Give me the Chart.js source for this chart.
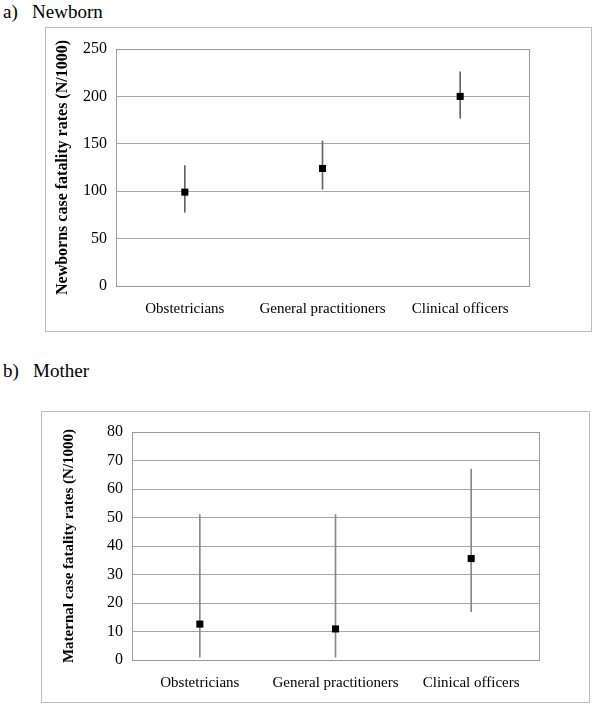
<!DOCTYPE html>
<html>
<head>
<meta charset="utf-8">
<script src="https://cdn.jsdelivr.net/npm/chart.js@4/dist/chart.umd.min.js"></script>
<style>
  body { margin: 0; background: #fff; font-family: "Liberation Serif", serif; }
  .title { position: absolute; left: 3px; font-size: 19px; color: #000; white-space: pre; }
  .box { position: absolute; border: 1px solid #bbb; box-sizing: border-box; }
</style>
</head>
<body>
<div class="title" style="top:1px;">a)   Newborn</div>
<div class="box" style="left:45px;top:27px;width:547px;height:305px;"><canvas id="chartA"></canvas></div>
<div class="title" style="top:360px;">b)   Mother</div>
<div class="box" style="left:41px;top:411px;width:549px;height:292px;"><canvas id="chartB"></canvas></div>
<script>
var categories = ['Obstetricians', 'General practitioners', 'Clinical officers'];

// a) newborn case fatality rates (N/1000)
var newbornRate = [99, 124, 200];
var newbornLow = [78, 102, 177];
var newbornHigh = [127, 153, 226];

// b) maternal case fatality rates (N/1000)
var maternalRate = [12.6, 10.9, 35.6];
var maternalLow = [1, 1, 17];
var maternalHigh = [51, 51, 67];

var serif = 'Liberation Serif';

var frame = {
  id: 'frame',
  afterDraw: function(chart) {
    var a = chart.chartArea, ctx = chart.ctx;
    ctx.save();
    ctx.strokeStyle = '#9a9a9a';
    ctx.lineWidth = 1;
    ctx.strokeRect(Math.round(a.left) + 0.5, Math.round(a.top) + 0.5, Math.round(a.right - a.left), Math.round(a.bottom - a.top));
    ctx.restore();
  }
};

function makeChart(id, rate, low, high, yMax, step, yTitle, titleSize, axisW, axisH, pad, barColor) {
  var ranges = [];
  for (var i = 0; i < rate.length; i++) ranges.push([low[i], high[i]]);
  return new Chart(document.getElementById(id), {
    data: {
      labels: categories,
      datasets: [
        {
          type: 'line',
          data: rate,
          showLine: false,
          pointStyle: 'rect',
          pointRadius: 5,
          pointBackgroundColor: '#000',
          pointBorderColor: '#000',
          pointBorderWidth: 0,
          order: 0
        },
        {
          type: 'bar',
          data: ranges,
          grouped: false,
          barThickness: 1,
          backgroundColor: barColor,
          borderWidth: 0,
          order: 1
        }
      ]
    },
    plugins: [frame],
    options: {
      responsive: true,
      maintainAspectRatio: false,
      animation: false,
      layout: { padding: pad },
      plugins: { legend: { display: false }, tooltip: { enabled: false } },
      scales: {
        x: {
          offset: true,
          afterFit: function(scale) { scale.height = axisH; },
          grid: { display: false, drawTicks: false },
          border: { display: false },
          ticks: { color: '#000', padding: 14, maxRotation: 0, font: { family: serif, size: 15 } }
        },
        y: {
          min: 0,
          max: yMax,
          afterFit: function(scale) { scale.width = axisW; },
          grid: { color: '#a6a6a6', drawTicks: false },
          border: { display: false },
          ticks: { stepSize: step, color: '#000', padding: 9, font: { family: serif, size: 16 } },
          title: {
            display: true,
            text: yTitle,
            color: '#000',
            padding: 0,
            font: { family: serif, size: titleSize, weight: 'bold' }
          }
        }
      }
    }
  });
}

makeChart('chartA', newbornRate, newbornLow, newbornHigh, 250, 50,
  'Newborns case fatality rates (N/1000)', 16, 63, 45, { left: 7, top: 21, right: 62, bottom: 0 }, '#666');
makeChart('chartB', maternalRate, maternalLow, maternalHigh, 80, 10,
  'Maternal case fatality rates (N/1000)', 15, 72, 42, { left: 18, top: 20, right: 50, bottom: 0 }, '#888');
</script>
</body>
</html>
